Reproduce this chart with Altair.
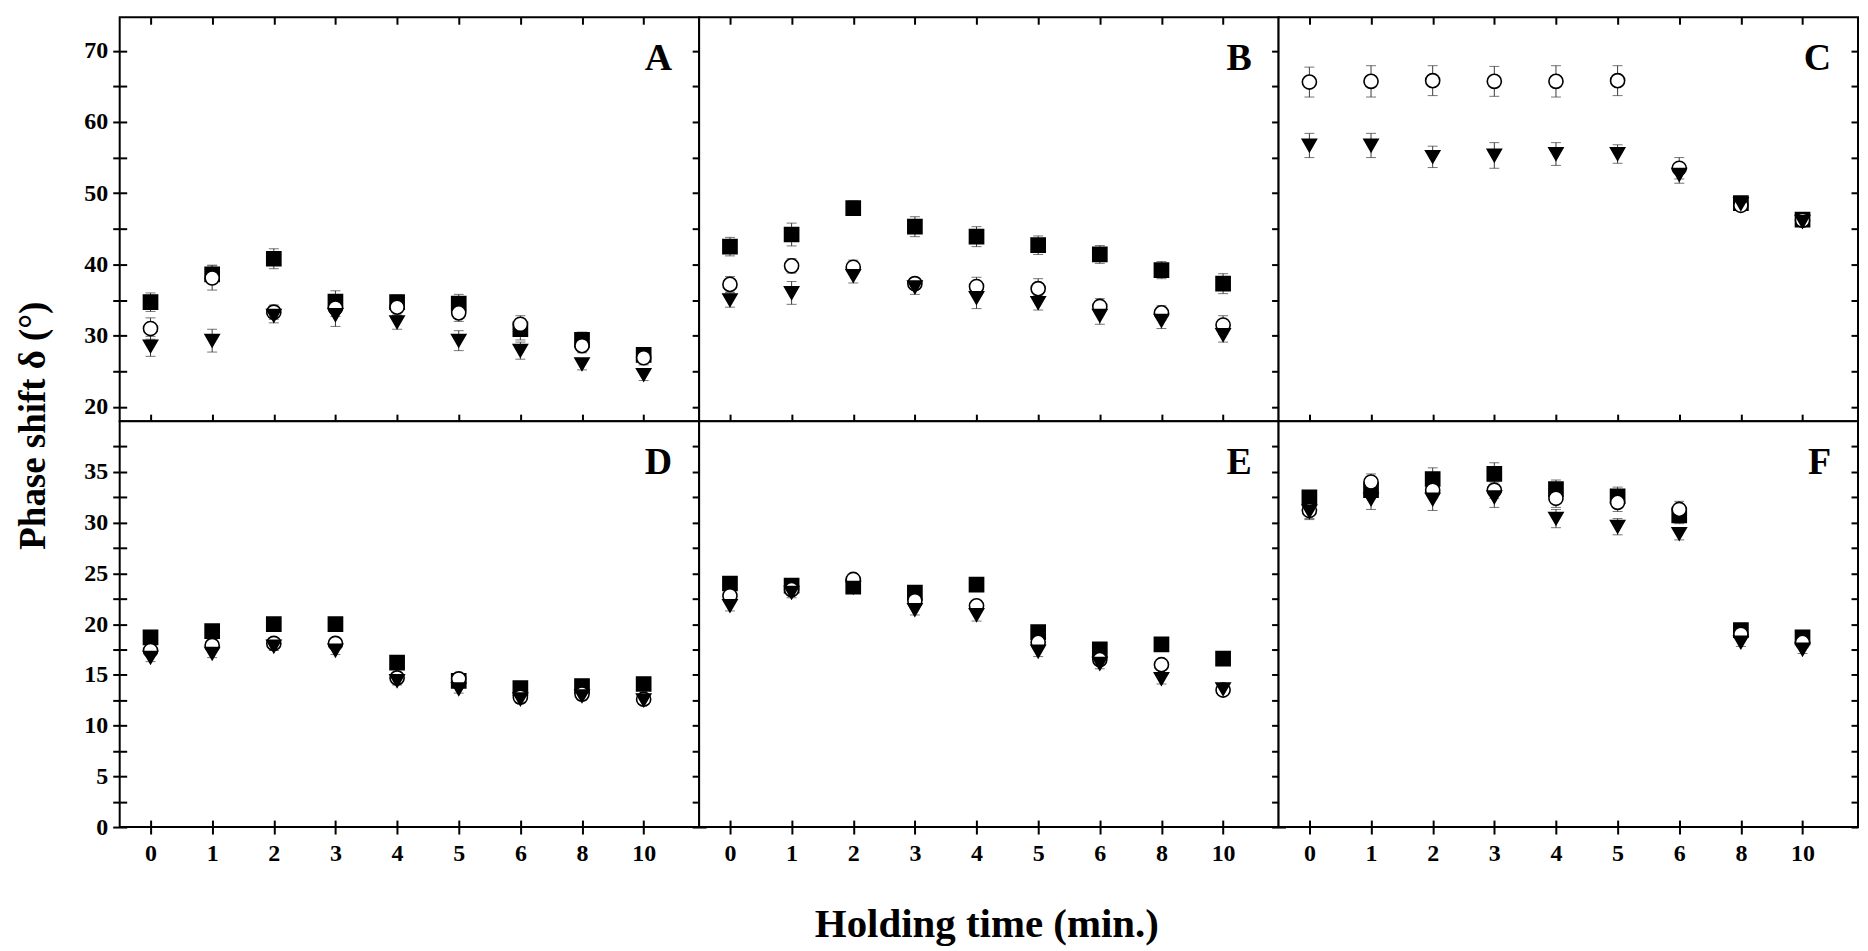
import altair as alt
import pandas as pd

# ---------------- data ----------------
hold_labels = ["0", "1", "2", "3", "4", "5", "6", "8", "10"]
series_names = ["square", "circle", "triangle"]
panel_letters = ["A", "B", "C", "D", "E", "F"]

# Panel A
A_sq = [34.7, 38.6, 40.8, 34.8, 34.7, 34.5, 30.9, 29.4, 27.3]
A_sq_err = [1.3, 1.3, 1.4, 1.5, 1.0, 1.3, 1.5, 1.1, 1.0]
A_ci = [31.0, 38.1, 33.3, 33.9, 34.0, 33.2, 31.6, 28.6, 26.9]
A_ci_err = [1.5, 1.7, 1.0, 1.2, 1.2, 1.2, 1.2, 1.0, 1.0]
A_tr = [28.5, 29.3, 32.8, 32.9, 31.9, 29.3, 27.9, 26.0, 24.5]
A_tr_err = [1.4, 1.6, 1.0, 1.6, 1.0, 1.4, 1.2, 0.8, 0.8]

# Panel B
B_sq = [42.5, 44.2, 47.9, 45.3, 43.9, 42.7, 41.4, 39.2, 37.3]
B_sq_err = [1.3, 1.6, 1.0, 1.4, 1.4, 1.3, 1.25, 1.2, 1.4]
B_ci = [37.2, 39.8, 39.6, 37.3, 36.9, 36.6, 34.1, 33.2, 31.5]
B_ci_err = [1.1, 1.0, 1.0, 0.8, 1.3, 1.4, 1.1, 1.0, 1.3]
B_tr = [35.0, 36.0, 38.4, 36.8, 35.3, 34.6, 32.8, 32.1, 30.1]
B_tr_err = [1.0, 1.6, 1.0, 1.0, 1.5, 1.0, 1.2, 1.1, 1.0]

# Panel C
C_sq = [None, None, None, None, None, None, None, 48.6, 46.3]
C_sq_err = [None, None, None, None, None, None, None, 0.6, 0.6]
C_ci = [65.6, 65.7, 65.8, 65.7, 65.7, 65.8, 53.5, 48.3, 46.2]
C_ci_err = [2.1, 2.2, 2.1, 2.1, 2.2, 2.1, 1.5, 0.8, 0.6]
C_tr = [56.7, 56.7, 55.1, 55.3, 55.5, 55.5, 52.6, 48.5, 46.0]
C_tr_err = [1.7, 1.7, 1.5, 1.8, 1.6, 1.3, 1.2, 0.8, 0.6]

# Panel D
D_sq = [18.7, 19.3, 20.0, 20.0, 16.2, 14.4, 13.7, 13.9, 14.1]
D_sq_err = [0.4, 0.4, 0.4, 0.4, 0.4, 0.4, 0.4, 0.4, 0.4]
D_ci = [17.4, 17.9, 18.1, 18.1, 14.7, 14.6, 12.8, 13.1, 12.6]
D_ci_err = [0.4, 0.4, 0.4, 0.4, 0.4, 0.5, 0.4, 0.4, 0.4]
D_tr = [16.7, 17.1, 17.8, 17.4, 14.4, 13.6, 12.6, 12.9, 12.5]
D_tr_err = [0.4, 0.4, 0.4, 0.4, 0.4, 0.4, 0.4, 0.4, 0.4]

# Panel E
E_sq = [24.0, 23.8, 23.7, 23.1, 23.9, 19.2, 17.5, 18.0, 16.6]
E_sq_err = [0.5, 0.5, 0.5, 0.5, 0.5, 0.5, 0.5, 0.5, 0.5]
E_ci = [22.8, 23.4, 24.4, 22.3, 21.8, 18.2, 16.5, 16.0, 13.5]
E_ci_err = [0.5, 0.5, 0.5, 0.5, 0.5, 0.5, 0.5, 0.5, 0.5]
E_tr = [21.8, 23.1, 23.6, 21.4, 20.9, 17.3, 16.1, 14.6, 13.6]
E_tr_err = [0.5, 0.5, 0.5, 0.5, 0.6, 0.5, 0.5, 0.5, 0.5]

# Panel F
F_sq = [32.5, 33.2, 34.3, 34.8, 33.3, 32.6, 30.7, 19.4, 18.7]
F_sq_err = [0.6, 0.8, 1.1, 1.1, 0.9, 0.9, 0.8, 0.5, 0.5]
F_ci = [31.2, 34.0, 33.2, 33.2, 32.4, 32.0, 31.3, 19.0, 18.2]
F_ci_err = [0.8, 0.8, 0.8, 0.8, 0.9, 0.9, 0.8, 0.4, 0.4]
F_tr = [31.1, 32.3, 32.3, 32.5, 30.4, 29.6, 28.9, 18.2, 17.5]
F_tr_err = [0.8, 1.0, 1.1, 1.0, 0.9, 0.8, 0.6, 0.4, 0.4]

x_domain = [-0.5, 8.9]
top_y_domain = [18.0, 74.7]
top_y_ticks = [20, 25, 30, 35, 40, 45, 50, 55, 60, 65, 70]
bottom_y_domain = [0.0, 40.0]
bottom_y_ticks = [0, 2.5, 5, 7.5, 10, 12.5, 15, 17.5, 20, 22.5, 25, 27.5, 30, 32.5, 35, 37.5]

FONT = "Liberation Serif"
PANEL_W = 581
TOP_H = 405
BOT_H = 407
TICK = 7


def panel_df(sq, sq_e, ci, ci_e, tr, tr_e):
    rows = []
    for s_i, (vals, errs) in enumerate([(sq, sq_e), (ci, ci_e), (tr, tr_e)]):
        for i, (v, e) in enumerate(zip(vals, errs)):
            if v is None:
                continue
            rows.append(dict(series=series_names[s_i], order=s_i, idx=i,
                             time=hold_labels[i], value=v, lo=v - e, hi=v + e))
    return pd.DataFrame(rows)


x_label_expr = "[" + ",".join("'" + l + "'" for l in hold_labels) + "][datum.value]"


def make_panel(df, letter, top_row, first_col, last_col, x_title=False, y_title=False):
    height = TOP_H if top_row else BOT_H
    ydom = top_y_domain if top_row else bottom_y_domain
    yvals = top_y_ticks if top_row else bottom_y_ticks
    ymod = 10 if top_row else 5
    x_scale = alt.Scale(domain=x_domain, nice=False, zero=False)
    y_scale = alt.Scale(domain=ydom, nice=False, zero=False)

    xb_kwargs = dict(orient="bottom", values=list(range(9)), labelExpr=x_label_expr,
                     labels=not top_row, title=None, labelPadding=8)
    if x_title:
        xb_kwargs.update(title="Holding time (min.)", titleX=288, titleY=110,
                         titleBaseline="alphabetic", titleAlign="center",
                         titleFontSize=41)
    x_bottom = alt.Axis(**xb_kwargs)
    x_top = alt.Axis(orient="top", values=list(range(9)), labels=False, title=None,
                     offset=-TICK if top_row else 0)

    yl_kwargs = dict(orient="left", values=yvals,
                     labelExpr="datum.value % " + str(ymod) + " == 0 ? datum.label : ''",
                     labels=first_col, title=None, labelPadding=5)
    if y_title:
        yl_kwargs.update(title="Phase shift δ (°)", titleX=-86, titleY=4, titleAngle=270,
                         titleBaseline="middle", titleAlign="center", titleFontSize=37)
    y_left = alt.Axis(**yl_kwargs)
    y_right = alt.Axis(orient="right", values=yvals, labels=False, title=None,
                       offset=-TICK if last_col else 0)

    # inward tick halves on the outer left / bottom frame edges
    y_left_in = alt.Axis(orient="left", values=yvals, labels=False, title=None,
                         offset=-TICK) if first_col else None
    x_bottom_in = alt.Axis(orient="bottom", values=list(range(9)), labels=False,
                           title=None, offset=-TICK) if not top_row else None

    base = alt.Chart(df)
    err_color = "#3a3a3a"
    rules = base.mark_rule(color=err_color, strokeWidth=1).encode(
        x=alt.X("idx:Q", scale=x_scale, axis=x_bottom),
        y=alt.Y("lo:Q", scale=y_scale, axis=y_left),
        y2="hi:Q",
    )
    caps_lo = base.mark_tick(color=err_color, thickness=1, size=10, orient="horizontal").encode(
        x=alt.X("idx:Q", scale=x_scale, axis=x_bottom_in),
        y=alt.Y("lo:Q", scale=y_scale, axis=y_left_in),
    )
    caps_hi = base.mark_tick(color=err_color, thickness=1, size=10, orient="horizontal").encode(
        x=alt.X("idx:Q", scale=x_scale, axis=None),
        y=alt.Y("hi:Q", scale=y_scale, axis=None),
    )
    points = base.mark_point(filled=True, stroke="black", strokeWidth=1.6, opacity=1).encode(
        x=alt.X("idx:Q", scale=x_scale, axis=x_top),
        y=alt.Y("value:Q", scale=y_scale, axis=y_right),
        shape=alt.Shape("series:N", scale=alt.Scale(domain=series_names,
                        range=["square", "circle", "triangle-down"]), legend=None),
        fill=alt.Fill("series:N", scale=alt.Scale(domain=series_names,
                      range=["black", "white", "black"]), legend=None),
        size=alt.Size("series:N", scale=alt.Scale(domain=series_names,
                      range=[200, 200, 290]), legend=None),
        order=alt.Order("order:Q"),
        tooltip=["series:N", "time:N", "value:Q"],
    )
    # panel letter anchored at the top-right corner of the plot (domain maxima)
    label = alt.Chart(pd.DataFrame({"letter": [letter]})).mark_text(
        align="right", baseline="alphabetic", dx=-27, dy=53,
        fontSize=38, font=FONT, fontWeight="bold", color="black",
    ).encode(
        x=alt.XDatum(x_domain[1], scale=x_scale, axis=None),
        y=alt.YDatum(ydom[1], scale=y_scale, axis=None),
        text="letter:N",
    )
    return alt.layer(rules, caps_lo, caps_hi, points, label).resolve_axis(
        x="independent", y="independent"
    ).properties(width=PANEL_W, height=height)


dfs = [
    panel_df(A_sq, A_sq_err, A_ci, A_ci_err, A_tr, A_tr_err),
    panel_df(B_sq, B_sq_err, B_ci, B_ci_err, B_tr, B_tr_err),
    panel_df(C_sq, C_sq_err, C_ci, C_ci_err, C_tr, C_tr_err),
    panel_df(D_sq, D_sq_err, D_ci, D_ci_err, D_tr, D_tr_err),
    panel_df(E_sq, E_sq_err, E_ci, E_ci_err, E_tr, E_tr_err),
    panel_df(F_sq, F_sq_err, F_ci, F_ci_err, F_tr, F_tr_err),
]

pA = make_panel(dfs[0], panel_letters[0], True, True, False)
pB = make_panel(dfs[1], panel_letters[1], True, False, False)
pC = make_panel(dfs[2], panel_letters[2], True, False, True)
pD = make_panel(dfs[3], panel_letters[3], False, True, False, y_title=True)
pE = make_panel(dfs[4], panel_letters[4], False, False, False, x_title=True)
pF = make_panel(dfs[5], panel_letters[5], False, False, True)

chart = alt.concat(pA, pB, pC, pD, pE, pF, columns=3, spacing=0, bounds="flush").properties(
    padding={"left": 5, "top": 6, "right": 0, "bottom": 0},
    background="white",
).configure_view(
    stroke="black", strokeWidth=2, fill="white"
).configure_axis(
    domain=False, grid=False, tickColor="black", tickWidth=2, tickSize=TICK,
    labelFont=FONT, labelFontWeight="bold", labelFontSize=24, labelColor="black",
    titleFont=FONT, titleFontWeight="bold", titleColor="black",
)

chart.save("out.html", embed_options={"renderer": "svg", "actions": False})
